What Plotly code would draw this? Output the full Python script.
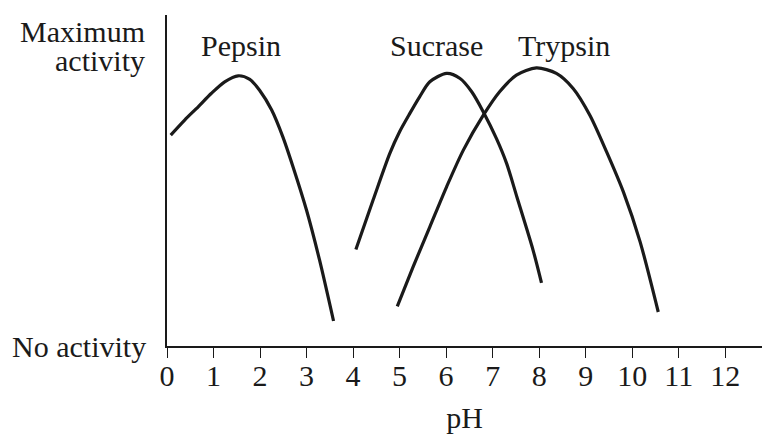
import plotly.graph_objects as go

# pH (x) and relative activity (y, 0 = no activity, 100 = maximum activity)
pepsin_ph = [0.08, 0.38, 0.67, 0.95, 1.24, 1.53, 1.78, 1.99, 2.25, 2.49, 2.71, 3.0, 3.28, 3.58]
pepsin_act = [70.1, 75.1, 79.5, 83.9, 87.8, 89.8, 88.6, 85.0, 78.4, 69.5, 59.5, 45.1, 28.5, 8.3]

sucrase_ph = [4.06, 4.43, 4.79, 5.00, 5.22, 5.43, 5.65, 6.01, 6.30, 6.55, 6.80, 7.08, 7.30, 7.52, 7.87, 8.05]
sucrase_act = [32.1, 48.5, 64.0, 71.2, 77.3, 82.8, 87.8, 90.6, 88.9, 84.5, 77.8, 69.0, 60.7, 49.6, 31.8, 21.0]

trypsin_ph = [4.95, 5.29, 5.65, 6.01, 6.37, 6.80, 7.15, 7.51, 7.94, 8.37, 8.73, 9.09, 9.45, 9.81, 10.17, 10.56]
trypsin_act = [13.2, 26.3, 39.6, 52.9, 65.1, 76.7, 84.5, 90.0, 92.4, 90.6, 85.6, 76.7, 64.5, 51.2, 34.6, 11.3]

enzyme_names = ["Pepsin", "Sucrase", "Trypsin"]
label_x = [1.58, 5.79, 8.53]
label_y = [100, 100, 100]

x_ticks = list(range(0, 13))
y_tick_vals = [0]
y_tick_text = ["No activity"]
max_label_lines = ["Maximum", "activity"]
max_label_y = [104.5, 95.0]

FONT = "Liberation Serif, Times New Roman, serif"
INK = "#1a1a1a"
FS = 30

fig = go.Figure()
for xs, ys in [(pepsin_ph, pepsin_act), (sucrase_ph, sucrase_act), (trypsin_ph, trypsin_act)]:
    fig.add_trace(go.Scatter(x=xs, y=ys, mode="lines",
                             line=dict(color=INK, width=3.2, shape="spline", smoothing=0.8),
                             showlegend=False, hoverinfo="skip"))

for name, lx, ly in zip(enzyme_names, label_x, label_y):
    fig.add_annotation(x=lx, y=ly, text=name, showarrow=False, xanchor="center", yanchor="middle",
                       font=dict(family=FONT, size=FS, color=INK))

for line_text, ly in zip(max_label_lines, max_label_y):
    fig.add_annotation(xref="paper", x=0, y=ly, text=line_text, showarrow=False,
                       xanchor="right", yanchor="middle", xshift=-20,
                       font=dict(family=FONT, size=FS, color=INK))

fig.update_layout(
    width=762, height=434,
    margin=dict(l=167, r=0, t=15, b=88),
    paper_bgcolor="white", plot_bgcolor="white",
    font=dict(family=FONT, size=FS, color=INK),
    showlegend=False,
)
fig.update_xaxes(
    range=[0, 12.79], tickmode="array", tickvals=x_ticks, ticktext=[str(t) for t in x_ticks],
    showgrid=False, zeroline=False, showline=True, linecolor=INK, linewidth=1.6,
    ticks="outside", ticklen=10, tickwidth=1.4, tickcolor=INK, automargin=False,
    ticklabelstandoff=-8,
    title=dict(text="pH", standoff=16, font=dict(family=FONT, size=FS, color=INK)),
    tickfont=dict(family=FONT, size=FS, color=INK),
)
fig.update_yaxes(
    range=[0, 110], tickmode="array", tickvals=y_tick_vals, ticktext=y_tick_text,
    showgrid=False, zeroline=False, showline=True, linecolor=INK, linewidth=1.6,
    ticks="", ticklabelstandoff=13, automargin=False,
    tickfont=dict(family=FONT, size=FS, color=INK),
)

fig.write_html("out.html", config={"displayModeBar": False},
               post_script="document.body.style.margin='0px';document.body.style.overflow='hidden';")
